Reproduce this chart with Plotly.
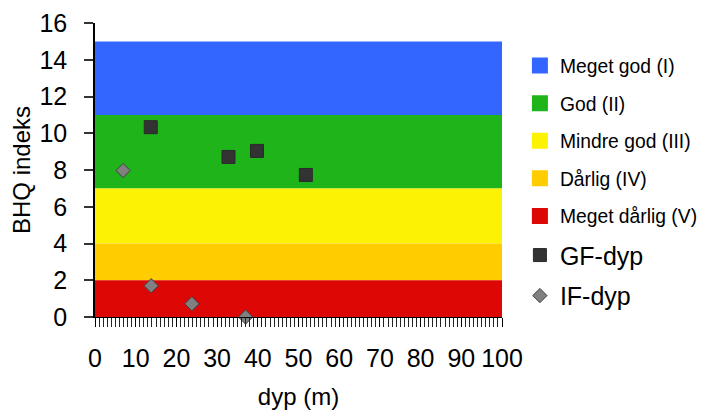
import plotly.graph_objects as go

# Quality classes (bands)
band_names = ["Meget god (I)", "God (II)", "Mindre god (III)", "Dårlig (IV)", "Meget dårlig (V)"]
band_lower = [11, 7, 4, 2, 0]
band_upper = [15, 11, 7, 4, 2]
band_colors = ["#3366ff", "#1fb51a", "#fcf203", "#ffcc00", "#dd0806"]
depth_range = [0, 100]

# Series
gf_depth = [13.7, 32.8, 39.8, 51.8]
gf_bhq = [10.33, 8.71, 9.04, 7.73]
if_depth = [6.9, 13.8, 23.8, 37.0]
if_bhq = [7.97, 1.70, 0.72, 0.0]

x_ticks = list(range(0, 101, 10))
y_ticks = list(range(0, 17, 2))

FONT = "Liberation Sans, Arial, sans-serif"

fig = go.Figure()

shapes = []
for name, lo, hi, col in zip(band_names, band_lower, band_upper, band_colors):
    shapes.append(dict(type="rect", xref="x", yref="y", x0=depth_range[0], x1=depth_range[1],
                       y0=lo, y1=hi, fillcolor=col, line=dict(width=0), layer="below"))
    fig.add_trace(go.Scatter(x=[None], y=[None], mode="markers", name=name,
                             legendgroup=name, legend="legend",
                             marker=dict(symbol="square", size=16, color=col,
                                         line=dict(width=0))))

fig.add_trace(go.Scatter(x=gf_depth, y=gf_bhq, mode="markers", name="GF-dyp",
                         legend="legend2", legendgroup="GF",
                         marker=dict(symbol="square", size=13, color="#333333",
                                     line=dict(width=1, color="#2a2a2a")),
                         cliponaxis=False))
fig.add_trace(go.Scatter(x=if_depth, y=if_bhq, mode="markers", name="IF-dyp",
                         legend="legend2", legendgroup="IF",
                         marker=dict(symbol="diamond", size=11, color="#808080",
                                     line=dict(width=1, color="#404040")),
                         cliponaxis=False))

fig.update_layout(
    width=700, height=402,
    margin=dict(l=87, r=206, t=15, b=93, autoexpand=False),
    paper_bgcolor="white", plot_bgcolor="white",
    font=dict(family=FONT, color="black", size=25),
    shapes=shapes,
    showlegend=True,
    legend=dict(x=1.044, y=0.92, xanchor="left", yanchor="top",
                font=dict(size=19.3, family=FONT), tracegroupgap=9.5,
                bgcolor="rgba(0,0,0,0)"),
    legend2=dict(x=1.044, y=0.288, xanchor="left", yanchor="top",
                 font=dict(size=25, family=FONT), tracegroupgap=5,
                 bgcolor="rgba(0,0,0,0)"),
    xaxis=dict(range=depth_range, tickvals=x_ticks, ticktext=[str(v) for v in x_ticks],
               showgrid=False, zeroline=False, showline=True, linecolor="black", linewidth=1,
               ticks="outside", ticklen=9, tickcolor="black", tickwidth=1,
               minor=dict(dtick=1, ticks="outside", ticklen=9, tickcolor="#222222", tickwidth=1),
               ticklabelstandoff=10, automargin=False,
               tickfont=dict(size=25),
               title=dict(text="dyp (m)", font=dict(size=24), standoff=19)),
    yaxis=dict(range=[0, 16], tickvals=y_ticks, ticktext=[str(v) for v in y_ticks],
               showgrid=False, zeroline=False, showline=True, linecolor="black", linewidth=1.5,
               ticks="outside", ticklen=9, tickcolor="#333333", tickwidth=1.5,
               ticklabelstandoff=12, automargin=False,
               tickfont=dict(size=25),
               title=dict(text="BHQ indeks", font=dict(size=24), standoff=3)),
)

fig.write_html("out.html")
